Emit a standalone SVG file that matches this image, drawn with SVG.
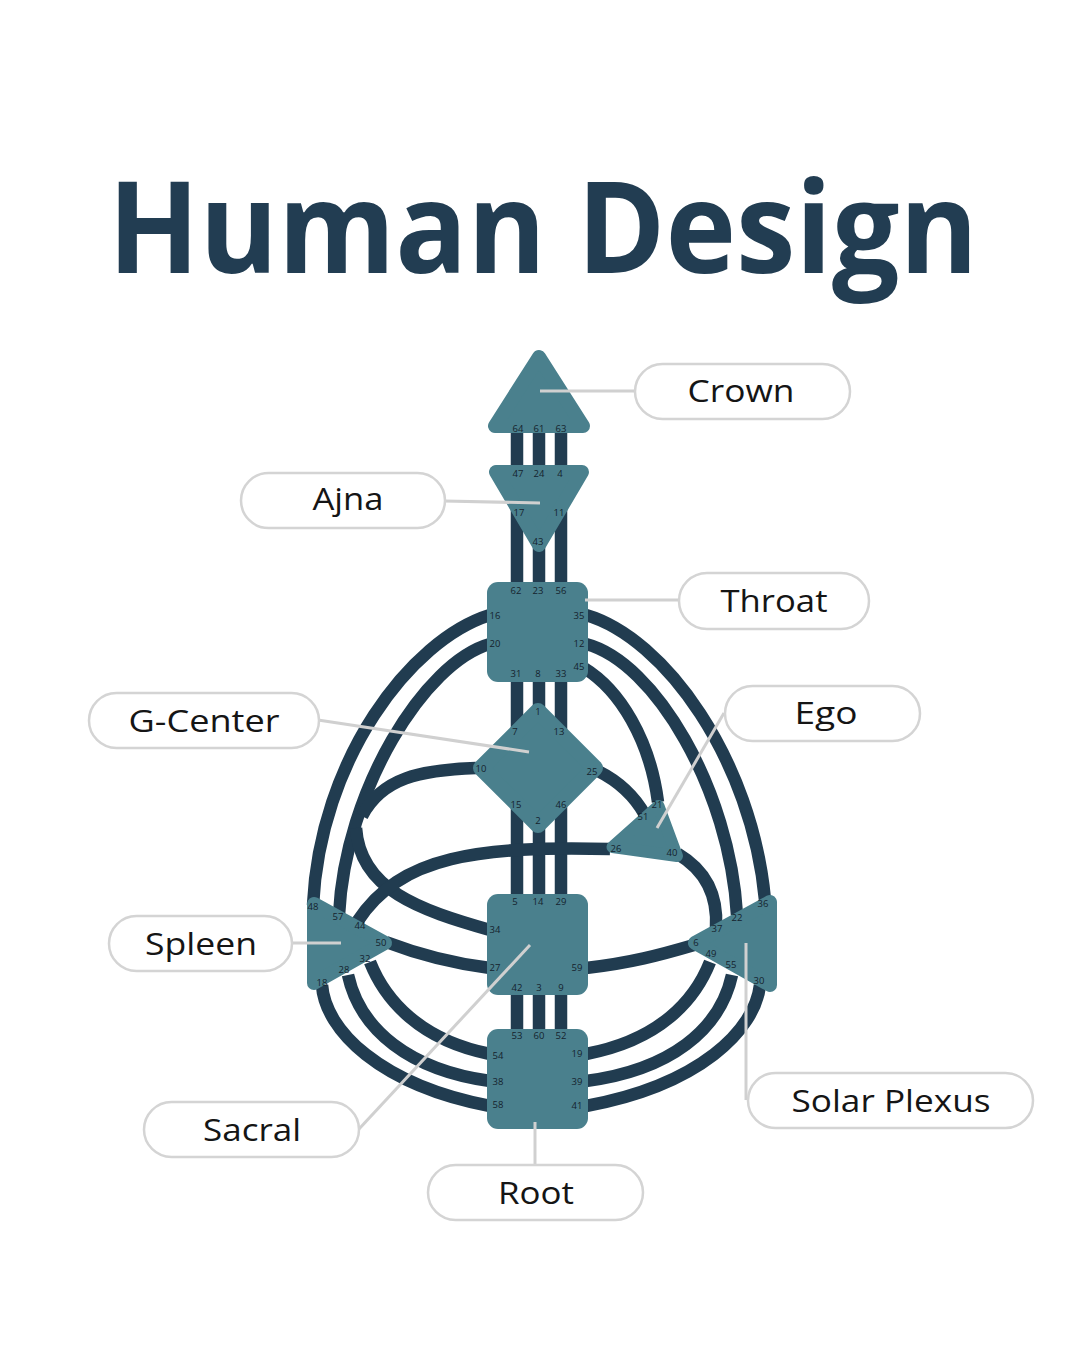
<svg xmlns="http://www.w3.org/2000/svg" width="1080" height="1350" viewBox="0 0 1080 1350">
<style>
.ch{fill:none;stroke:#213c50;stroke-width:12.5;stroke-linecap:butt}
.ctr{fill:#4a808d;stroke:#4a808d;stroke-linejoin:round}
.n{font-family:"Open Sans","Noto Sans",sans-serif;font-size:9.5px;fill:#15232e;text-anchor:middle}
.box{fill:#ffffff;stroke:#d4d4d4;stroke-width:2.5}
.lt{font-family:"Open Sans","Noto Sans",sans-serif;font-size:31px;fill:#151515;text-anchor:middle}
.ptr{stroke:#d0d0d0;stroke-width:3;fill:none}
</style>
<rect width="1080" height="1350" fill="#ffffff"/>
<text x="543" y="273" font-family="'Open Sans','Noto Sans',sans-serif" font-weight="700" font-size="128" fill="#223d52" text-anchor="middle" textLength="870" lengthAdjust="spacingAndGlyphs">Human Design</text>

<g id="connectors">
<path class="ch" d="M517 420 V1040 M539 420 V1040 M561 420 V1040"/>
<path class="ch" d="M490 615 C410 640 320 760 313 905"/>
<path class="ch" d="M490 644 C425 662 345 790 339 915"/>
<path class="ch" d="M476 768 C420 770 382 778 362 816"/>
<path class="ch" d="M490 930 C420 910 360 890 356 828"/>
<path class="ch" d="M386 942 C420 955 450 963 490 968"/>
<path class="ch" d="M610 849 C480 846 400 855 357 922"/>
<path class="ch" d="M370 962 C385 1000 420 1040 490 1054"/>
<path class="ch" d="M348 975 C360 1030 410 1070 490 1081"/>
<path class="ch" d="M322 985 C325 1030 380 1085 490 1106"/>
<path class="ch" d="M586 615 C665 638 752 760 765 900"/>
<path class="ch" d="M586 644 C655 662 730 790 737 915"/>
<path class="ch" d="M584 668 C620 690 650 740 658 802"/>
<path class="ch" d="M598 771 C620 782 635 797 645 815"/>
<path class="ch" d="M678 854 C705 870 718 895 716 928"/>
<path class="ch" d="M586 968 C630 963 660 955 694 945"/>
<path class="ch" d="M710 962 C695 1000 660 1040 586 1054"/>
<path class="ch" d="M732 975 C720 1030 670 1070 586 1081"/>
<path class="ch" d="M760 985 C755 1030 700 1085 586 1106"/>
</g>

<g id="crown">
<polygon class="ctr" stroke-width="14" points="539,357 495,426 583,426"/>
<text class="n" x="518" y="432">64</text><text class="n" x="539" y="432">61</text><text class="n" x="561" y="432">63</text>
</g>
<g id="ajna">
<polygon class="ctr" stroke-width="14" points="496,472 582,472 539,545"/>
<text class="n" x="518" y="477">47</text><text class="n" x="539" y="477">24</text><text class="n" x="560" y="477">4</text>
<text class="n" x="519" y="516">17</text><text class="n" x="559" y="516">11</text><text class="n" x="538" y="545">43</text>
</g>
<g id="throat">
<rect class="ctr" stroke-width="0" x="487" y="582" width="101" height="100" rx="11"/>
<text class="n" x="516" y="594">62</text><text class="n" x="538" y="594">23</text><text class="n" x="561" y="594">56</text>
<text class="n" x="495" y="619">16</text><text class="n" x="495" y="647">20</text>
<text class="n" x="579" y="619">35</text><text class="n" x="579" y="647">12</text><text class="n" x="579" y="670">45</text>
<text class="n" x="516" y="677">31</text><text class="n" x="538" y="677">8</text><text class="n" x="561" y="677">33</text>
</g>
<g id="g-center">
<polygon class="ctr" stroke-width="16" points="538,711 595,768 538,825 481,768"/>
<text class="n" x="538" y="715">1</text><text class="n" x="515" y="735">7</text><text class="n" x="559" y="735">13</text>
<text class="n" x="481" y="772">10</text><text class="n" x="592" y="775">25</text>
<text class="n" x="516" y="808">15</text><text class="n" x="561" y="808">46</text><text class="n" x="538" y="824">2</text>
</g>
<g id="ego">
<polygon class="ctr" stroke-width="12" points="658.5,806 612.5,847 677,856"/>
<text class="n" x="657" y="808">21</text><text class="n" x="643" y="820">51</text>
<text class="n" x="616" y="852">26</text><text class="n" x="672" y="856">40</text>
</g>
<g id="spleen">
<polygon class="ctr" stroke-width="14" points="314,904 314,983 385,943"/>
<text class="n" x="313" y="910">48</text><text class="n" x="338" y="920">57</text><text class="n" x="360" y="929">44</text>
<text class="n" x="381" y="946">50</text><text class="n" x="365" y="962">32</text><text class="n" x="344" y="973">28</text><text class="n" x="322" y="986">18</text>
</g>
<g id="sacral">
<rect class="ctr" stroke-width="0" x="487" y="894" width="101" height="101" rx="11"/>
<text class="n" x="515" y="905">5</text><text class="n" x="538" y="905">14</text><text class="n" x="561" y="905">29</text>
<text class="n" x="495" y="933">34</text><text class="n" x="495" y="971">27</text><text class="n" x="577" y="971">59</text>
<text class="n" x="517" y="991">42</text><text class="n" x="539" y="991">3</text><text class="n" x="561" y="991">9</text>
</g>
<g id="solar-plexus">
<polygon class="ctr" stroke-width="14" points="770,902 770,985 695,943"/>
<text class="n" x="763" y="907">36</text><text class="n" x="737" y="921">22</text><text class="n" x="717" y="932">37</text>
<text class="n" x="696" y="946">6</text><text class="n" x="711" y="957">49</text><text class="n" x="731" y="968">55</text><text class="n" x="759" y="984">30</text>
</g>
<g id="root">
<rect class="ctr" stroke-width="0" x="487" y="1029" width="101" height="100" rx="11"/>
<text class="n" x="517" y="1039">53</text><text class="n" x="539" y="1039">60</text><text class="n" x="561" y="1039">52</text>
<text class="n" x="498" y="1059">54</text><text class="n" x="498" y="1085">38</text><text class="n" x="498" y="1108">58</text>
<text class="n" x="577" y="1057">19</text><text class="n" x="577" y="1085">39</text><text class="n" x="577" y="1109">41</text>
</g>

<g id="pointers">
<path class="ptr" d="M540 391 H636"/>
<path class="ptr" d="M444 501 L540 503"/>
<path class="ptr" d="M585 600 H680"/>
<path class="ptr" d="M318 720 L529 752"/>
<path class="ptr" d="M724 713 L657 828"/>
<path class="ptr" d="M291 943 H341"/>
<path class="ptr" d="M359 1129 L530 945"/>
<path class="ptr" d="M535 1122 V1165"/>
<path class="ptr" d="M746 943 V1100"/>
</g>

<g id="label-crown"><rect class="box" x="635" y="364" width="215" height="55" rx="27.5"/><text class="lt" x="741" y="402" textLength="107" lengthAdjust="spacingAndGlyphs">Crown</text></g>
<g id="label-ajna"><rect class="box" x="241" y="473" width="204" height="55" rx="27.5"/><text class="lt" x="348" y="510" textLength="71" lengthAdjust="spacingAndGlyphs">Ajna</text></g>
<g id="label-throat"><rect class="box" x="679" y="573" width="190" height="56" rx="28"/><text class="lt" x="774" y="612" textLength="107" lengthAdjust="spacingAndGlyphs">Throat</text></g>
<g id="label-g"><rect class="box" x="89" y="693" width="230" height="55" rx="27.5"/><text class="lt" x="204" y="732" textLength="151" lengthAdjust="spacingAndGlyphs">G-Center</text></g>
<g id="label-ego"><rect class="box" x="725" y="686" width="195" height="55" rx="27.5"/><text class="lt" x="826" y="724" textLength="63" lengthAdjust="spacingAndGlyphs">Ego</text></g>
<g id="label-spleen"><rect class="box" x="109" y="916" width="183" height="55" rx="27.5"/><text class="lt" x="201" y="955" textLength="112" lengthAdjust="spacingAndGlyphs">Spleen</text></g>
<g id="label-sacral"><rect class="box" x="144" y="1102" width="215" height="55" rx="27.5"/><text class="lt" x="252" y="1141" textLength="98" lengthAdjust="spacingAndGlyphs">Sacral</text></g>
<g id="label-root"><rect class="box" x="428" y="1165" width="215" height="55" rx="27.5"/><text class="lt" x="536" y="1204" textLength="76" lengthAdjust="spacingAndGlyphs">Root</text></g>
<g id="label-solar"><rect class="box" x="748" y="1073" width="285" height="55" rx="27.5"/><text class="lt" x="891" y="1112" textLength="199" lengthAdjust="spacingAndGlyphs">Solar Plexus</text></g>
</svg>
